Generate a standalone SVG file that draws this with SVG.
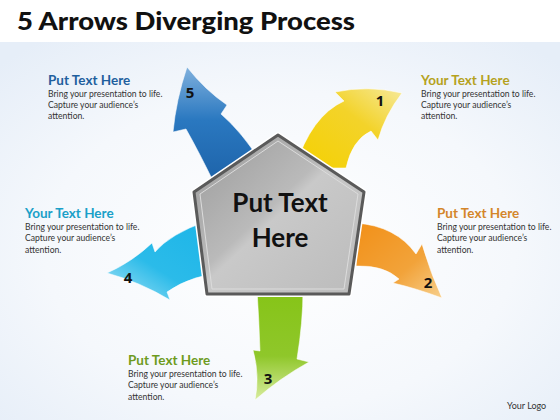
<svg xmlns="http://www.w3.org/2000/svg" width="560" height="420" viewBox="0 0 560 420">
<defs>
<radialGradient id="bg" cx="0.5" cy="0.55" r="0.7">
<stop offset="0" stop-color="#ffffff"/><stop offset="0.6" stop-color="#f5f8fc"/><stop offset="1" stop-color="#e6eef8"/>
</radialGradient>
<linearGradient id="gBlue" x1="0" y1="0" x2="0" y2="1">
<stop offset="0" stop-color="#7fb0dd"/><stop offset="0.45" stop-color="#2a78c0"/><stop offset="1" stop-color="#1d62a8"/>
</linearGradient>
<linearGradient id="gYel" x1="1" y1="0" x2="0" y2="1">
<stop offset="0" stop-color="#f6e99a"/><stop offset="0.4" stop-color="#f3d32a"/><stop offset="1" stop-color="#f5d100"/>
</linearGradient>
<linearGradient id="gOra" x1="0" y1="0" x2="1" y2="1">
<stop offset="0" stop-color="#f29018"/><stop offset="0.6" stop-color="#f2a33a"/><stop offset="1" stop-color="#f7cf8c"/>
</linearGradient>
<linearGradient id="gGrn" x1="0" y1="0" x2="0" y2="1">
<stop offset="0" stop-color="#86c417"/><stop offset="0.6" stop-color="#8fc72a"/><stop offset="1" stop-color="#d8ec9e"/>
</linearGradient>
<linearGradient id="gCyan" x1="1" y1="0" x2="0" y2="1">
<stop offset="0" stop-color="#1ab4e8"/><stop offset="0.6" stop-color="#2bbbe9"/><stop offset="1" stop-color="#a8e3f6"/>
</linearGradient>
<linearGradient id="gPent" x1="0" y1="0" x2="1" y2="1">
<stop offset="0" stop-color="#999999"/><stop offset="0.45" stop-color="#bababa"/><stop offset="0.5" stop-color="#c9c9c9"/><stop offset="1" stop-color="#bbbbbb"/>
</linearGradient>
<style>
.arrow{stroke:#ffffff;stroke-opacity:0.55;stroke-width:1;stroke-linejoin:round}
.num{font-family:"Open Sans","DejaVu Sans",sans-serif;font-weight:bold;font-size:15px;fill:#111;text-anchor:middle}
.ttl{font-family:Lato,"Open Sans",sans-serif;font-weight:bold;font-size:13.5px}
.body{font-family:Lato,"Open Sans",sans-serif;font-size:8.6px;fill:#333}
</style>
</defs>
<rect width="560" height="420" fill="#ffffff"/>
<rect y="42" width="560" height="378" fill="url(#bg)"/>
<text x="17" y="30" font-family="Lato,'Open Sans',sans-serif" font-weight="900" font-size="25" fill="#111" textLength="338" lengthAdjust="spacingAndGlyphs">5 Arrows Diverging Process</text>

<g id="connectors">
<g id="arrow5">
<path class="arrow" fill="url(#gBlue)" d="M215,185 Q199,152 186,129 L173,132 Q176,100 187,67 Q205,90 227,105 L221,114 Q242,132 263,165 Z"/>
<text class="num" x="190" y="98">5</text>
</g>
<g id="arrow1">
<path class="arrow" fill="url(#gYel)" d="M295,168 Q311,116 344,101 L335,92 Q368,85 402,93 Q385,115 378,140 L371,131 Q352,140 346,168 Z"/>
<text class="num" x="380" y="106">1</text>
</g>
<g id="arrow2">
<path class="arrow" fill="url(#gOra)" d="M356,223 Q396,226 416,254 L422,244 Q430,272 442,298 Q415,288 393,283 L399,279 Q384,265 356,266 Z"/>
<text class="num" x="428" y="288">2</text>
</g>
<g id="arrow3">
<path class="arrow" fill="url(#gGrn)" d="M257,290 Q259,320 260,351 L253,350 Q260,375 255,400 Q280,378 309,362 L297,359 Q303,322 303,290 Z"/>
<text class="num" x="268" y="384">3</text>
</g>
<g id="arrow4">
<path class="arrow" fill="url(#gCyan)" d="M207,221 Q170,234 155,252 L152,243 Q132,262 107,273 Q140,282 170,300 L167,292 Q192,274 231,272 Z"/>
<text class="num" x="128" y="283">4</text>
</g>
</g>

<g id="center">
<polygon points="278,135 364,192 349,294 207,294 194,192" fill="#888" stroke="#ffffff" stroke-width="6" stroke-linejoin="round"/>
<polygon points="278,135 364,192 349,294 207,294 194,192" fill="url(#gPent)" stroke="#5a5a5a" stroke-width="3" stroke-linejoin="round"/>
<polygon points="278,141 358,194 344,289 212,289 200,194" fill="none" stroke="#dcdcdc" stroke-width="1"/>
<text x="280" y="212" font-family="Lato,'Open Sans',sans-serif" font-weight="bold" font-size="26" fill="#111" text-anchor="middle">Put Text</text>
<text x="280" y="247" font-family="Lato,'Open Sans',sans-serif" font-weight="bold" font-size="26" fill="#111" text-anchor="middle">Here</text>
</g>

<g id="text5">
<text class="ttl" x="48" y="85" fill="#1f5f9e">Put Text Here</text>
<text class="body" x="48" y="96.5">Bring your presentation to life.</text>
<text class="body" x="48" y="107.5">Capture your audience’s</text>
<text class="body" x="48" y="118.5">attention.</text>
</g>
<g id="text1">
<text class="ttl" x="421" y="85" fill="#b5a21e">Your Text Here</text>
<text class="body" x="421" y="96.5">Bring your presentation to life.</text>
<text class="body" x="421" y="107.5">Capture your audience’s</text>
<text class="body" x="421" y="118.5">attention.</text>
</g>
<g id="text2">
<text class="ttl" x="437" y="218" fill="#d4862a">Put Text Here</text>
<text class="body" x="437" y="229.5">Bring your presentation to life.</text>
<text class="body" x="437" y="241">Capture your audience’s</text>
<text class="body" x="437" y="252.5">attention.</text>
</g>
<g id="text4">
<text class="ttl" x="25" y="218" fill="#1aa0c8">Your Text Here</text>
<text class="body" x="25" y="229.5">Bring your presentation to life.</text>
<text class="body" x="25" y="241">Capture your audience’s</text>
<text class="body" x="25" y="252.5">attention.</text>
</g>
<g id="text3">
<text class="ttl" x="128" y="365" fill="#6e9b1e">Put Text Here</text>
<text class="body" x="128" y="376.5">Bring your presentation to life.</text>
<text class="body" x="128" y="388">Capture your audience’s</text>
<text class="body" x="128" y="399.5">attention.</text>
</g>
<text x="507" y="409" font-family="Lato,'Open Sans',sans-serif" font-size="9" fill="#333">Your Logo</text>
</svg>
